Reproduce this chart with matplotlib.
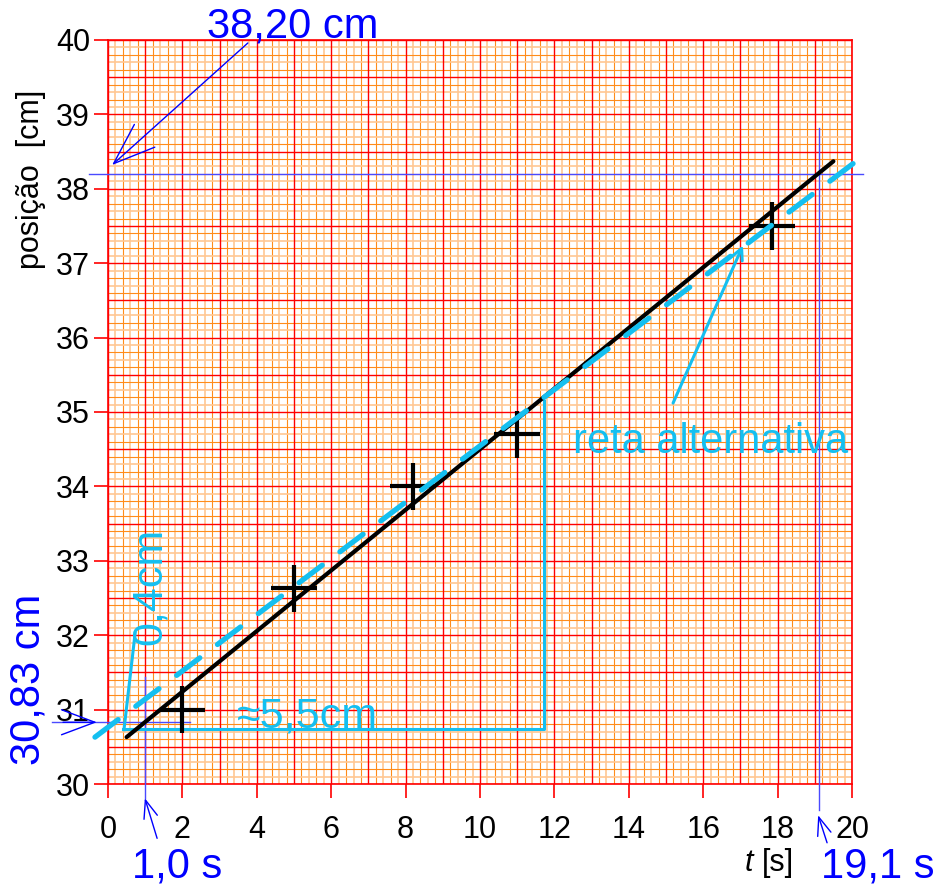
import numpy as np
import matplotlib
matplotlib.use("Agg")
import matplotlib.pyplot as plt

plt.rcParams['font.family'] = ['Liberation Sans', 'DejaVu Sans']

# measured points (time in s, position in cm) with error crosses
t_pts = [2.0, 5.0, 8.2, 11.0, 17.85]
pos_pts = [31.0, 32.63, 34.0, 34.7, 37.5]
t_err = 0.62
pos_err = 0.32

# best line (black) and alternative line (cyan dashed), end points
fit_t = [0.5, 19.5]
fit_pos = [30.63, 38.37]
alt_t = [-0.35, 20.27]
alt_pos = [30.63, 38.43]

# read-off values
t_read = [1.0, 19.1]
pos_read = [30.83, 38.20]

x_ticks = list(range(0, 21, 2))
y_ticks = list(range(30, 41))

BLUE = '#0000ff'
LBLUE = '#4a4aff'
CYAN = '#14bff0'

fig = plt.figure(figsize=(9.38, 8.88), dpi=100)
ax = fig.add_axes([108 / 938, 104 / 888, 744 / 938, 744 / 888])
ax.set_xlim(0, 20)
ax.set_ylim(30, 40)

# graph paper: minor lines (0.2 s x 0.1 cm), major red lines (1 s x 0.5 cm)
for i, xv in enumerate(np.arange(0.2, 20, 0.2)):
    if abs(xv - round(xv)) < 1e-6:
        continue
    ax.axvline(xv, color='#ff8c1a' if i % 2 else '#ffc792',
               lw=0.8 if i % 2 else 1.2, zorder=0)
for i, yv in enumerate(np.arange(30.1, 40, 0.1)):
    if abs(yv * 2 - round(yv * 2)) < 1e-6:
        continue
    ax.axhline(yv, color='#ff8c1a' if i % 2 else '#ffc792',
               lw=0.8 if i % 2 else 1.2, zorder=0)
for xv in range(0, 21):
    ax.axvline(xv, color='red', lw=1.0, zorder=1)
for yv in np.arange(30, 40.01, 0.5):
    ax.axhline(yv, color='red', lw=1.0, zorder=1)

for s in ax.spines.values():
    s.set_color('red')
    s.set_linewidth(1.2)
ax.set_xticks(x_ticks)
ax.set_yticks(y_ticks)
ax.tick_params(axis='both', colors='red', labelcolor='black', length=10,
               width=1.2, labelsize=22)
ax.tick_params(axis='x', pad=12)
ax.tick_params(axis='y', pad=3)

# axis labels
ax.text(-2.07, 38.13, 'posição  [cm]', rotation=90, fontsize=22,
        ha='center', va='center', clip_on=False)
ax.text(17.12, 28.83, 't', fontsize=22, style='italic', ha='left',
        va='baseline', clip_on=False)
ax.text(17.58, 28.83, '[s]', fontsize=22, ha='left', va='baseline',
        clip_on=False)

# blue read-off lines and arrows
ax.plot([-0.51, 20.3], [pos_read[1]] * 2, color=LBLUE, lw=1, clip_on=False, zorder=3)
ax.plot([-1.5, 2.2], [pos_read[0]] * 2, color=LBLUE, lw=1, clip_on=False, zorder=3)
ax.plot([t_read[0]] * 2, [31.44, 29.81], color=LBLUE, lw=1, clip_on=False, zorder=3)
ax.plot([t_read[1]] * 2, [38.82, 29.65], color=LBLUE, lw=1, clip_on=False, zorder=3)

arrows = [
    ((3.76, 39.96), (0.11, 38.32), 3.0, 1.1),
    ((-1.21, 30.83), (-0.30, 30.83), 2.4, 0.9),
    ((1.32, 29.27), (0.99, 29.81), 1.3, 0.5),
    ((19.33, 29.21), (19.09, 29.58), 1.3, 0.5),
]
for start, tip, hl, hw in arrows:
    ax.annotate('', xy=tip, xytext=start, annotation_clip=False,
                arrowprops=dict(arrowstyle='->,head_length=%g,head_width=%g' % (hl, hw),
                                color=BLUE, lw=1, mutation_scale=10,
                                shrinkA=0, shrinkB=0))

ax.text(2.66, 40.03, '38,20 cm', color=BLUE, fontsize=30, ha='left',
        va='baseline', clip_on=False)
ax.text(-2.15, 31.41, '30,83 cm', color=BLUE, fontsize=30, rotation=90,
        ha='center', va='center', clip_on=False)
ax.text(1.86, 28.74, '1,0 s', color=BLUE, fontsize=30, ha='center',
        va='baseline', clip_on=False)
ax.text(20.7, 28.74, '19,1 s', color=BLUE, fontsize=30, ha='center',
        va='baseline', clip_on=False)

# slope triangle and notes (cyan)
ax.plot([0.4, 11.72, 11.72], [30.74, 30.74, 35.15], color=CYAN, lw=2.2,
        zorder=4, clip_on=False)
ax.plot([0.43, 0.73], [30.73, 32.03], color=CYAN, lw=2.2, zorder=4)
ax.text(1.13, 31.87, '0,4cm', color=CYAN, fontsize=31, rotation=90,
        ha='center', va='bottom', zorder=4)
ax.text(3.47, 30.76, '≈5,5cm', color=CYAN, fontsize=31, ha='left',
        va='baseline', zorder=4)
ax.text(12.5, 34.45, 'reta alternativa', color=CYAN, fontsize=30,
        ha='left', va='baseline', zorder=6, clip_on=False)
ax.annotate('', xy=(17.07, 37.24), xytext=(15.19, 35.12),
            arrowprops=dict(arrowstyle='->,head_length=0.8,head_width=0.4',
                            color=CYAN, lw=2.2, mutation_scale=10,
                            shrinkA=0, shrinkB=0), zorder=4)

# lines and data crosses
ax.plot(fit_t, fit_pos, color='black', lw=3.0, solid_capstyle='round', zorder=5)
ax.plot(alt_t, alt_pos, color=CYAN, lw=3.8, dashes=(5.5, 4.2),
        dash_capstyle='round', zorder=6, clip_on=False)
ax.errorbar(t_pts, pos_pts, xerr=t_err, yerr=pos_err, fmt='none',
            ecolor='black', elinewidth=3.0, capsize=0, zorder=5)

fig.savefig('out.png', dpi=100)
